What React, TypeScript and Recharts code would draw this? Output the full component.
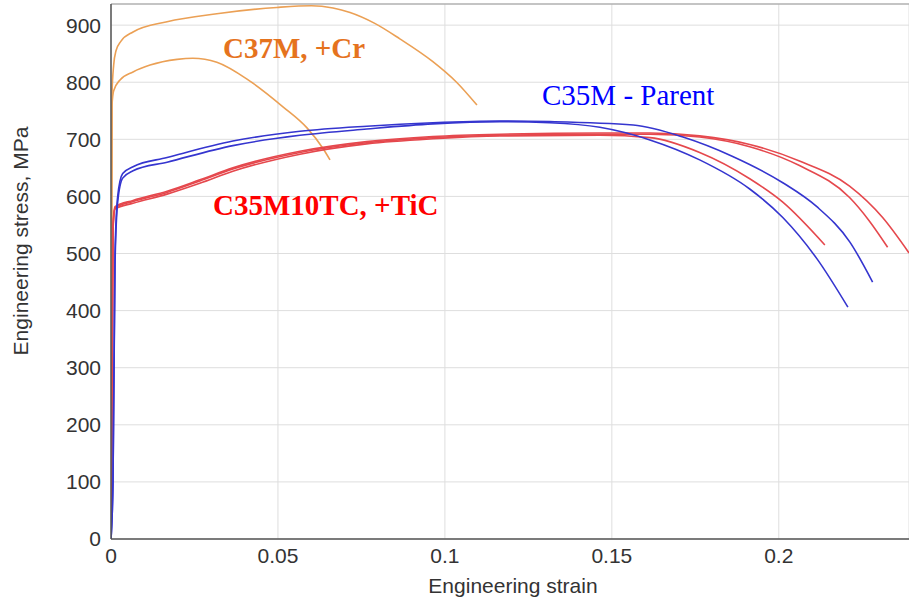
import { LineChart, Line, XAxis, YAxis, CartesianGrid, ReferenceLine } from 'recharts';

// C37M, +Cr (two samples)
const crAStrain = [0, 0.0003, 0.0008, 0.0015, 0.003, 0.0066, 0.0168, 0.0317, 0.0497, 0.06, 0.0665, 0.0716, 0.079, 0.0865, 0.0964, 0.1035, 0.1096];
const crAStress = [0, 780, 830, 855, 872, 888, 906, 920, 931, 934, 930, 922, 903, 876, 836, 800, 760];
const crBStrain = [0, 0.0003, 0.0008, 0.0027, 0.0066, 0.0117, 0.0198, 0.0245, 0.0317, 0.0416, 0.0515, 0.0587, 0.0635, 0.0656];
const crBStress = [0, 760, 785, 804, 818, 830, 840, 842, 835, 802, 757, 720, 684, 664];

// C35M - Parent (two samples)
const parAStrain = [0, 0.0006, 0.0012, 0.002, 0.0035, 0.0066, 0.0168, 0.0365, 0.0566, 0.0766, 0.0964, 0.1165, 0.1314, 0.1464, 0.1614, 0.1763, 0.1913, 0.2012, 0.2114, 0.2207];
const parAStress = [0, 100, 480, 590, 632, 645, 660, 689, 707, 718, 727, 731, 729, 721, 699, 664, 613, 563, 491, 406];
const parBStrain = [0, 0.0006, 0.0012, 0.002, 0.0035, 0.0066, 0.0168, 0.0365, 0.0566, 0.0766, 0.0964, 0.1165, 0.1314, 0.1564, 0.1713, 0.1862, 0.2012, 0.2114, 0.2213, 0.2281];
const parBStress = [0, 100, 500, 600, 640, 652, 668, 697, 714, 723, 729, 732, 731, 725, 704, 670, 624, 582, 520, 450];

// C35M10TC, +TiC (three samples)
const ticAStrain = [0, 0.0006, 0.0012, 0.0066, 0.0168, 0.0266, 0.0365, 0.0566, 0.0766, 0.0964, 0.1165, 0.1464, 0.1614, 0.1763, 0.1913, 0.2012, 0.2138];
const ticAStress = [0, 540, 578, 588, 604, 623, 644, 674, 692, 701, 706, 707, 703, 677, 631, 590, 515];
const ticBStrain = [0, 0.0006, 0.0012, 0.0066, 0.0168, 0.0266, 0.0365, 0.0566, 0.0766, 0.0964, 0.1165, 0.1464, 0.1614, 0.1763, 0.1913, 0.2062, 0.2212, 0.227, 0.2326];
const ticBStress = [0, 545, 580, 591, 607, 627, 648, 677, 694, 703, 707, 709, 709, 704, 687, 654, 598, 558, 511];
const ticCStrain = [0, 0.0006, 0.0012, 0.0066, 0.0168, 0.0266, 0.0365, 0.0566, 0.0766, 0.0964, 0.1165, 0.1464, 0.1614, 0.1763, 0.1913, 0.2062, 0.2212, 0.2311, 0.239];
const ticCStress = [0, 550, 582, 593, 609, 629, 650, 679, 696, 705, 709, 711, 711, 706, 691, 662, 618, 563, 501];

const xTicks = [0, 0.05, 0.1, 0.15, 0.2];
const yTicks = [0, 100, 200, 300, 400, 500, 600, 700, 800, 900];

const zip = (xs: number[], ys: number[]) => xs.map((x, i) => ({ x, y: ys[i] }));

const series = [
  { key: 'crA', data: zip(crAStrain, crAStress), color: '#EBA055' },
  { key: 'crB', data: zip(crBStrain, crBStress), color: '#EBA055' },
  { key: 'ticA', data: zip(ticAStrain, ticAStress), color: '#E5484D' },
  { key: 'ticB', data: zip(ticBStrain, ticBStress), color: '#E5484D' },
  { key: 'ticC', data: zip(ticCStrain, ticCStress), color: '#E5484D' },
  { key: 'parA', data: zip(parAStrain, parAStress), color: '#3535CF' },
  { key: 'parB', data: zip(parBStrain, parBStress), color: '#3535CF' },
];

const tickStyle = { fontSize: 21, fill: '#333', fontFamily: '"Liberation Sans", Arial, sans-serif' };
const serif = '"Liberation Serif", "Times New Roman", serif';

export default function App() {
  return (
    <div style={{ position: 'fixed', left: 0, top: 0, width: 909, height: 603, background: '#fff' }}>
      <LineChart width={909} height={603} margin={{ top: 4, right: 0, left: 0, bottom: 0 }}>
        <CartesianGrid stroke="#dedede" />
        <XAxis
          type="number"
          dataKey="x"
          domain={[0, 0.239]}
          ticks={xTicks}
          allowDataOverflow
          height={64}
          tick={tickStyle}
          tickLine={false}
          tickSize={6}
          tickMargin={3}
          stroke="#555"
          strokeWidth={1.5}
        />
        <YAxis
          type="number"
          domain={[0, 937]}
          ticks={yTicks}
          allowDataOverflow
          width={111}
          tick={tickStyle}
          tickLine={false}
          tickSize={6}
          tickMargin={4}
          stroke="#555"
          strokeWidth={1.5}
        />
        <ReferenceLine y={937} stroke="#999" />
        {series.map((s) => (
          <Line
            key={s.key}
            data={s.data}
            dataKey="y"
            type="monotone"
            stroke={s.color}
            strokeWidth={1.6}
            dot={false}
            isAnimationActive={false}
          />
        ))}
      </LineChart>
      <svg width={909} height={603} style={{ position: 'absolute', left: 0, top: 0, pointerEvents: 'none' }}>
        <text x={513} y={593} textAnchor="middle" style={tickStyle}>Engineering strain</text>
        <text transform="translate(28,241) rotate(-90)" textAnchor="middle" style={tickStyle}>Engineering stress, MPa</text>
        <text x={223} y={58} fill="#E5731E" fontSize={29} fontWeight="bold" fontFamily={serif}>C37M, +Cr</text>
        <text x={213} y={215} fill="#FF0000" fontSize={29} fontWeight="bold" fontFamily={serif}>C35M10TC, +TiC</text>
        <text x={542} y={105} fill="#0000FF" fontSize={29} fontFamily={serif}>C35M - Parent</text>
      </svg>
    </div>
  );
}
